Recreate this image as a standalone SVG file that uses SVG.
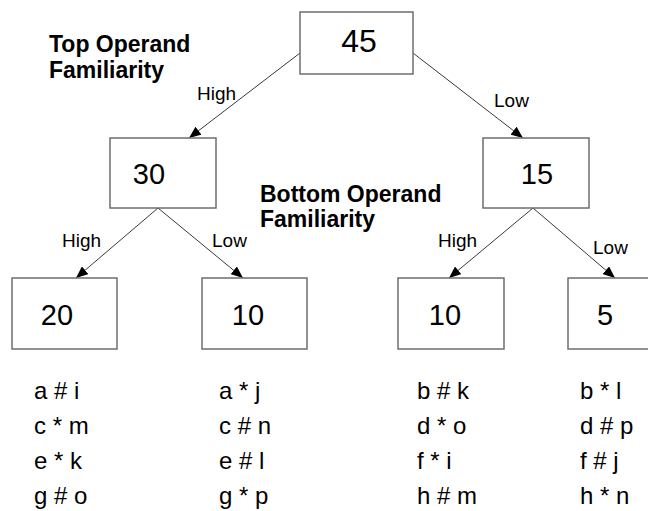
<svg xmlns="http://www.w3.org/2000/svg" width="648" height="511" viewBox="0 0 648 511">
<style>
  .box { fill: #ffffff; stroke: #6e6e6e; stroke-width: 1.5; }
  .num { font-family: "Liberation Sans", Arial, sans-serif; fill: #000; text-anchor: middle; }
  .n1 { font-size: 32px; }
  .n2 { font-size: 29px; }
  .edge { stroke: #3a3a3a; stroke-width: 1; fill: none; marker-end: url(#arrow); }
  .lbl { font-family: "Liberation Sans", Arial, sans-serif; font-size: 19px; fill: #000; }
  .title { font-family: "Liberation Sans", Arial, sans-serif; font-size: 23px; font-weight: bold; fill: #000; }
  .items { font-family: "Liberation Sans", Arial, sans-serif; font-size: 24px; fill: #000; }
</style>
<defs>
  <marker id="arrow" viewBox="0 0 12 10" refX="12" refY="5" markerWidth="12" markerHeight="10" markerUnits="userSpaceOnUse" orient="auto">
    <path d="M0,0 L12,5 L0,10 z" fill="#000"/>
  </marker>
</defs>
<rect width="648" height="511" fill="#ffffff"/>

<g id="connectors">
  <line class="edge" x1="300" y1="53" x2="189" y2="138"/>
  <line class="edge" x1="413" y1="53" x2="523" y2="138"/>
  <line class="edge" x1="158" y1="208" x2="76" y2="278"/>
  <line class="edge" x1="158" y1="208" x2="243" y2="278"/>
  <line class="edge" x1="533" y1="208" x2="449" y2="278"/>
  <line class="edge" x1="533" y1="208" x2="615" y2="278"/>
  <text class="lbl" x="197" y="100">High</text>
  <text class="lbl" x="494" y="107">Low</text>
  <text class="lbl" x="62" y="247">High</text>
  <text class="lbl" x="212" y="247">Low</text>
  <text class="lbl" x="438" y="247">High</text>
  <text class="lbl" x="593" y="254">Low</text>
</g>

<g id="title-top">
  <text class="title" x="49" y="52">Top Operand</text>
  <text class="title" x="49" y="78">Familiarity</text>
</g>
<g id="title-bottom">
  <text class="title" x="260" y="202">Bottom Operand</text>
  <text class="title" x="260" y="227">Familiarity</text>
</g>

<g id="n45">
  <rect class="box" x="300" y="12" width="113" height="62"/>
  <text class="num n1" x="359" y="52">45</text>
</g>
<g id="n30">
  <rect class="box" x="110" y="138" width="106" height="70"/>
  <text class="num n2" x="149" y="184">30</text>
</g>
<g id="n15">
  <rect class="box" x="483" y="138" width="106" height="70"/>
  <text class="num n2" x="537" y="184">15</text>
</g>
<g id="n20">
  <rect class="box" x="12" y="278" width="105" height="71"/>
  <text class="num n2" x="57" y="325">20</text>
</g>
<g id="n10a">
  <rect class="box" x="202" y="278" width="105" height="71"/>
  <text class="num n2" x="248" y="325">10</text>
</g>
<g id="n10b">
  <rect class="box" x="398" y="278" width="106" height="71"/>
  <text class="num n2" x="445" y="325">10</text>
</g>
<g id="n5">
  <rect class="box" x="568" y="278" width="105" height="71"/>
  <text class="num n2" x="605" y="325">5</text>
</g>

<g id="list1" class="items">
  <text x="34" y="399">a # i</text>
  <text x="34" y="434">c * m</text>
  <text x="34" y="469">e * k</text>
  <text x="34" y="504">g # o</text>
</g>
<g id="list2" class="items">
  <text x="219" y="399">a * j</text>
  <text x="219" y="434">c # n</text>
  <text x="219" y="469">e # l</text>
  <text x="219" y="504">g * p</text>
</g>
<g id="list3" class="items">
  <text x="417" y="399">b # k</text>
  <text x="417" y="434">d * o</text>
  <text x="417" y="469">f * i</text>
  <text x="417" y="504">h # m</text>
</g>
<g id="list4" class="items">
  <text x="580" y="399">b * l</text>
  <text x="580" y="434">d # p</text>
  <text x="580" y="469">f # j</text>
  <text x="580" y="504">h * n</text>
</g>
</svg>
